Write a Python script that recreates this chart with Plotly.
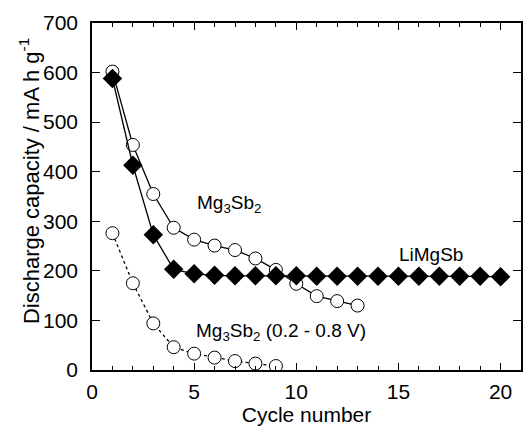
import plotly.graph_objects as go

cycles_li = list(range(1, 21))
cap_li = [588, 413, 273, 203, 194, 191, 190, 190, 190, 190,
          189, 189, 189, 189, 189, 189, 189, 189, 189, 188]

cycles_mg = list(range(1, 14))
cap_mg = [602, 454, 355, 287, 263, 251, 242, 225, 202, 174, 149, 139, 130]

cycles_mg_lim = list(range(1, 10))
cap_mg_lim = [276, 175, 94, 46, 33, 25, 18, 13, 8]

FONT = "Liberation Sans, Arial, Helvetica, sans-serif"

fig = go.Figure()
fig.add_trace(go.Scatter(
    x=cycles_mg_lim, y=cap_mg_lim, mode="lines+markers",
    line=dict(color="black", width=1.3, dash="dot"),
    marker=dict(symbol="circle", size=13, color="white",
                line=dict(color="black", width=1)),
    showlegend=False))
fig.add_trace(go.Scatter(
    x=cycles_mg, y=cap_mg, mode="lines+markers",
    line=dict(color="black", width=1.3),
    marker=dict(symbol="circle", size=13, color="white",
                line=dict(color="black", width=1)),
    showlegend=False))
fig.add_trace(go.Scatter(
    x=cycles_li, y=cap_li, mode="lines+markers",
    line=dict(color="black", width=1.3),
    marker=dict(symbol="diamond", size=15, color="black",
                line=dict(color="black", width=0)),
    showlegend=False))

ann_font = dict(family=FONT, size=19, color="black")
fig.add_annotation(x=6.7, y=334, text="Mg<sub>3</sub>Sb<sub>2</sub>",
                   showarrow=False, font=ann_font)
fig.add_annotation(x=16.6, y=232, text="LiMgSb",
                   showarrow=False, font=ann_font)
fig.add_annotation(x=9.25, y=76, text="Mg<sub>3</sub>Sb<sub>2</sub> (0.2 - 0.8 V)",
                   showarrow=False, font=ann_font)
# y-axis title placed as rotated text
fig.add_annotation(xref="paper", yref="paper", x=-0.13, y=0.545,
                   xanchor="center", yanchor="middle", xshift=-7,
                   text="Discharge capacity / mA h g<sup>-1</sup>",
                   textangle=-90, showarrow=False,
                   font=dict(family=FONT, size=22, color="black"))

fig.update_layout(
    width=523, height=428,
    margin=dict(l=92, r=0, t=23, b=58),
    paper_bgcolor="white", plot_bgcolor="white",
    font=dict(family=FONT, size=21, color="black"),
)
fig.update_xaxes(
    range=[0, 21], tickvals=[0, 5, 10, 15, 20],
    showline=True, linecolor="black", linewidth=1.5, mirror="allticks",
    ticks="inside", ticklen=7, tickwidth=1.2, tickcolor="black",
    minor=dict(dtick=1, tick0=0, ticks="inside", ticklen=4, tickwidth=1, tickcolor="black"),
    showgrid=False, zeroline=False,
    title=dict(text="Cycle number", font=dict(size=21), standoff=4),
    tickfont=dict(size=21), ticklabelstandoff=2,
)
fig.update_yaxes(
    range=[0, 700], tickvals=[0, 100, 200, 300, 400, 500, 600, 700],
    showline=True, linecolor="black", linewidth=1.5, mirror="allticks",
    ticks="inside", ticklen=8, tickwidth=1.2, tickcolor="black",
    showgrid=False, zeroline=False,
    tickfont=dict(size=21), ticklabelstandoff=8,
)

fig.write_html("out.html")
